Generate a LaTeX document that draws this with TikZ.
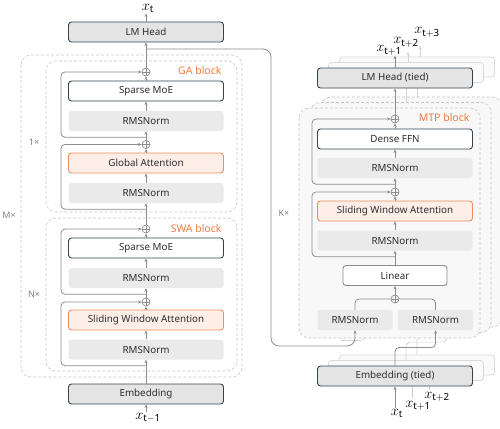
\documentclass[tikz,border=0pt]{standalone}
\usepackage{fontspec}
\setmainfont{Noto Sans}
\usetikzlibrary{arrows.meta,calc}
\definecolor{darkedge}{HTML}{34444F}
\definecolor{arrowgray}{HTML}{8C8C8C}
\definecolor{headfill}{HTML}{E4E4E4}
\definecolor{normfill}{HTML}{EAEAEA}
\definecolor{attnedge}{HTML}{EC8E5F}
\definecolor{attnfill}{HTML}{FDEFE7}
\definecolor{tagorange}{HTML}{EE7C40}
\definecolor{dashgray}{HTML}{C6C6C6}
\definecolor{blockfill}{HTML}{F8F8F8}
\definecolor{boxtext}{HTML}{2E2E2E}
\begin{document}
\begin{tikzpicture}[x=1pt,y=-1pt,
    modbox/.style={rounded corners=3pt, minimum width=155pt, minimum height=20pt,
      inner sep=0pt, text=boxtext, font=\fontsize{9.8}{11}\selectfont},
    headbox/.style={modbox, draw=darkedge, line width=0.9pt, fill=headfill},
    ffnbox/.style={modbox, draw=darkedge, line width=0.9pt, fill=white},
    normbox/.style={modbox, fill=normfill},
    attnbox/.style={modbox, draw=attnedge, line width=0.9pt, fill=attnfill},
    ghostbox/.style={modbox, draw=gray!30, line width=0.8pt, fill=gray!4},
    addop/.style={circle, draw=arrowgray, line width=0.7pt, minimum size=8pt, inner sep=0pt,
      path picture={\draw[arrowgray, line width=0.7pt]
        (path picture bounding box.north) -- (path picture bounding box.south)
        (path picture bounding box.west) -- (path picture bounding box.east);}},
    arr/.style={draw=arrowgray, line width=0.8pt, -{Stealth[length=3.5pt,width=3pt]}},
    link/.style={draw=arrowgray, line width=0.8pt},
    ghostarr/.style={draw=gray!35, line width=0.7pt, -{Stealth[length=3.5pt,width=3pt]}},
    ghostlink/.style={draw=gray!35, line width=0.7pt},
    blockline/.style={draw=dashgray, dash pattern=on 3pt off 2pt, line width=0.6pt, rounded corners=10pt},
    blocktag/.style={text=tagorange, font=\fontsize{10.5}{12}\selectfont},
    reptag/.style={text=gray, font=\fontsize{9}{11}\selectfont},
    tok/.style={inner sep=0.5pt, anchor=base, font=\fontsize{14}{15}\selectfont}]
  \useasboundingbox (0,0) rectangle (500,428);

  % main model
  \draw[blockline] (21,55) rectangle (242,377);
  \draw[blockline] (46,61) rectangle (237,212);
  \draw[blockline] (46,218) rectangle (237,371);
  \node[blocktag, anchor=east] (gatag) at (225,71) {GA block};
  \node[blocktag, anchor=east] (swatag) at (225,229) {SWA block};
  \node[reptag] (onerep) at (34,142) {1×};
  \node[reptag] (nrep) at (34,294) {N×};
  \node[reptag] (mrep) at (9,215) {M×};
  \node[reptag] (krep) at (284,213) {K×};

  \node[headbox] (lmhead) at (146,32) {LM Head};
  \node[addop] (addA) at (146,72) {};
  \node[ffnbox] (moeA) at (146,91) {Sparse MoE};
  \node[normbox] (normA) at (146,121) {RMSNorm};
  \node[addop] (addB) at (146,144.5) {};
  \node[attnbox] (gattn) at (146,163) {Global Attention};
  \node[normbox] (normB) at (146,193) {RMSNorm};
  \node[addop] (addC) at (146,229) {};
  \node[ffnbox] (moeB) at (146,248) {Sparse MoE};
  \node[normbox] (normC) at (146,278) {RMSNorm};
  \node[addop] (addD) at (146,302) {};
  \node[attnbox] (swattn) at (146,320) {Sliding Window Attention};
  \node[normbox] (normD) at (146,349.5) {RMSNorm};
  \node[headbox] (embed) at (146,394) {Embedding};
  \node[tok] (xin) at (148,419) {$x_{\mathrm{t-1}}$};
  \node[tok] (xout) at (148,10.5) {$x_{\mathrm{t}}$};

  \foreach \a/\b in {normD/swattn, swattn/addD, addD/normC, normC/moeB, moeB/addC,
                     addC/normB, normB/gattn, gattn/addB, addB/normA, normA/moeA,
                     moeA/addA, addA/lmhead}
    \draw[arr] (\a) -- (\b);
  \draw[arr] (embed) -- (normD);
  \draw[arr] (embed |- xin.north) -- (embed);
  \draw[arr] (lmhead) -- (lmhead |- xout.south);
  \foreach \n/\s in {normA/addA, normB/addB, normC/addC, normD/addD}
    \draw[arr, rounded corners=4pt] ($(\n.south)+(0,6)$) -- ++(-85,0) |- (\s);

  % MTP copies behind
  \foreach \k in {2,1}{
    \begin{scope}[shift={(11*\k,-5.5*\k)}]
      \node[ghostbox] (ghead\k) at (395,78) {};
      \draw[ghostlink] (ghead\k.south) -- ++(0,31);
      \draw[blockline, fill=blockfill] (299,108) rectangle (480,338);
      \node[ghostbox] (gembed\k) at (395,376) {};
      \draw[ghostlink, rounded corners=4pt] (gembed\k.north) -- ++(0,-18) -| (436,338);
      \draw[ghostlink, rounded corners=6pt] (330,346) -| (355,338);
    \end{scope}
  }
  \coordinate (go2) at (408,52);
  \coordinate (go3) at (420,46);
  \coordinate (gi2) at (412,398);
  \coordinate (gi3) at (429,390);
  \draw[ghostarr] (go2 |- ghead1.north) -- (go2);
  \draw[ghostarr] (go3 |- ghead2.north) -- (go3);
  \draw[ghostarr] (gi2) -- (gi2 |- gembed1.south);
  \draw[ghostarr] (gi3) -- (gi3 |- gembed2.south);

  % MTP front
  \draw[blockline, fill=blockfill] (299,108) rectangle (480,338);
  \node[blocktag, anchor=east] (mtptag) at (473,118) {MTP block};
  \node[headbox] (mhead) at (395,78) {LM Head (tied)};
  \node[addop] (maddA) at (395,119) {};
  \node[ffnbox] (mffn) at (395,139) {Dense FFN};
  \node[normbox] (mnormA) at (395,168) {RMSNorm};
  \node[addop] (maddB) at (395,192) {};
  \node[attnbox] (mswa) at (395,211) {Sliding Window Attention};
  \node[normbox] (mnormB) at (395,240.5) {RMSNorm};
  \node[modbox, draw=arrowgray, line width=0.9pt, fill=white, minimum width=104pt] (mlin) at (395,275.5) {Linear};
  \node[addop] (maddC) at (395,299) {};
  \node[normbox, minimum width=75pt] (mnormL) at (355,320) {RMSNorm};
  \node[normbox, minimum width=75pt] (mnormR) at (435.5,320) {RMSNorm};
  \node[headbox] (membed) at (395,376) {Embedding (tied)};
  \node[tok] (xo1) at (389,52) {$x_{\mathrm{t+1}}$};
  \node[tok] (xo2) at (406,44) {$x_{\mathrm{t+2}}$};
  \node[tok] (xo3) at (427,34) {$x_{\mathrm{t+3}}$};
  \node[tok] (xi1) at (397,415) {$x_{\mathrm{t}}$};
  \node[tok] (xi2) at (418,407) {$x_{\mathrm{t+1}}$};
  \node[tok] (xi3) at (437,398) {$x_{\mathrm{t+2}}$};

  \foreach \a/\b in {maddC/mlin, mlin/mnormB, mnormB/mswa, mswa/maddB, maddB/mnormA,
                     mnormA/mffn, mffn/maddA, maddA/mhead}
    \draw[arr] (\a) -- (\b);
  \foreach \n/\s in {mnormA/maddA, mnormB/maddB}
    \draw[arr, rounded corners=4pt] ($(\n.south)+(0,6)$) -- ++(-83,0) |- (\s);
  \draw[link, rounded corners=4pt] (mnormL) |- (maddC);
  \draw[link, rounded corners=4pt] (mnormR) |- (maddC);
  \draw[arr, rounded corners=4pt] (membed.north) -- ++(0,-18) -| (mnormR);
  \draw[arr] (membed |- xi1.north) -- (membed);
  \draw[arr] (mhead) -- (mhead |- xo1.south);

  \coordinate (tap) at (146,49);
  \draw[arr, rounded corners=8pt] (tap) -- (271,49) -- (271,346) -| (mnormL);
\end{tikzpicture}
\end{document}
